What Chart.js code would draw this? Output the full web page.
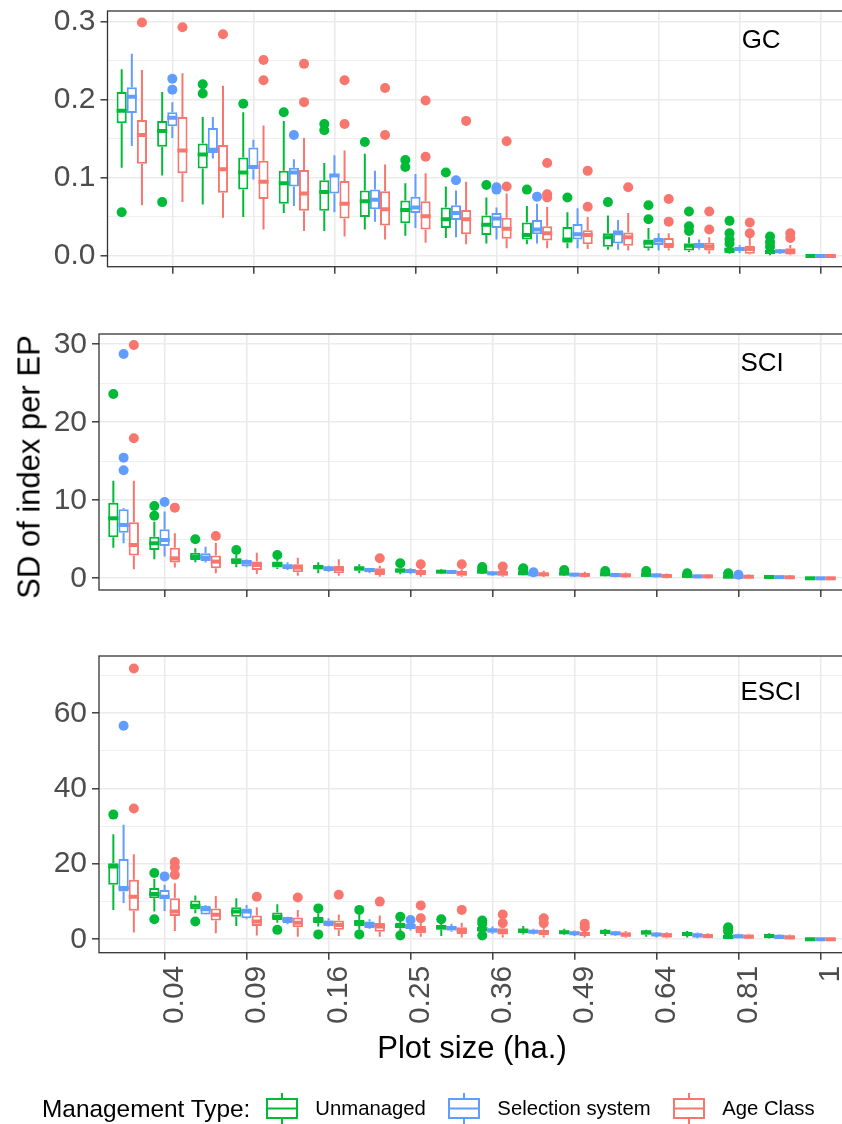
<!DOCTYPE html>
<html>
<head>
<meta charset="utf-8">
<title>SD of index per EP by plot size</title>
<script src="https://cdn.jsdelivr.net/npm/chart.js@4.4.1/dist/chart.umd.min.js"></script>
<style>
  html, body { margin: 0; padding: 0; width: 842px; height: 1124px; overflow: hidden; background: #fff; }
  body { position: relative; font-family: "Liberation Sans", Arial, sans-serif; color: #000; }
  canvas { position: absolute; left: 0; }
  #ytitle { position: absolute; left: 29px; top: 466.5px; transform: translate(-50%, -50%) rotate(-90deg);
            font-size: 31px; line-height: 1; white-space: nowrap; }
  #legend { position: absolute; left: 42px; top: 1093px; height: 31px; display: flex; align-items: flex-start; white-space: nowrap; }
  #legend .lt { font-size: 24.4px; line-height: 31px; margin-right: 16px; }
  #legend .key { width: 32px; height: 31px; margin-right: 17px; }
  #legend .ll { font-size: 20.3px; line-height: 31px; margin-right: 22.5px; }
</style>
</head>
<body>
<canvas id="gc" width="850" height="280" style="top:0px"></canvas>
<canvas id="sci" width="850" height="290" style="top:320px"></canvas>
<canvas id="esci" width="850" height="484" style="top:640px"></canvas>
<div id="ytitle">SD of index per EP</div>
<div id="legend"><span class="lt">Management Type:</span></div>

<script>
// plot sizes (ha.), x axis runs on sqrt(size) = plot side
const plotSizes = [0.0225, 0.04, 0.0625, 0.09, 0.1225, 0.16, 0.2025, 0.25, 0.3025, 0.36, 0.4225, 0.49, 0.5625, 0.64, 0.7225, 0.81, 0.9025, 1];
const sizeTicks = [0.04, 0.09, 0.16, 0.25, 0.36, 0.49, 0.64, 0.81, 1];
const managementTypes = ['Unmanaged', 'Selection system', 'Age Class'];
const typeColors = ['#00BA38', '#619CFF', '#F8766D'];

// y ticks per panel
const gcTicks = [0, 0.1, 0.2, 0.3];
const gcTickLabels = ['0.0', '0.1', '0.2', '0.3'];
const sciTicks = [0, 10, 20, 30];
const sciTickLabels = ['0', '10', '20', '30'];
const esciTicks = [0, 20, 40, 60];
const esciTickLabels = ['0', '20', '40', '60'];

// box stats: [lower whisker, q1, median, q3, upper whisker], one row per plot size
const gcUnmanaged = [
  [0.113, 0.170, 0.186, 0.210, 0.239], [0.103, 0.140, 0.160, 0.173, 0.210], [0.066, 0.112, 0.130, 0.144, 0.178],
  [0.050, 0.085, 0.107, 0.126, 0.184], [0.055, 0.067, 0.093, 0.109, 0.173], [0.032, 0.058, 0.082, 0.097, 0.119],
  [0.034, 0.050, 0.070, 0.084, 0.131], [0.026, 0.042, 0.059, 0.071, 0.093], [0.023, 0.036, 0.047, 0.062, 0.089],
  [0.016, 0.027, 0.040, 0.052, 0.075], [0.015, 0.021, 0.027, 0.043, 0.064], [0.010, 0.017, 0.021, 0.037, 0.056],
  [0.008, 0.012, 0.024, 0.029, 0.052], [0.007, 0.010, 0.017, 0.021, 0.036], [0.005, 0.007, 0.013, 0.016, 0.024],
  [0.003, 0.004, 0.008, 0.011, 0.013], [0.001, 0.003, 0.005, 0.008, 0.009], [0, 0, 0, 0, 0]
];
const gcSelection = [
  [0.141, 0.183, 0.204, 0.216, 0.259], [0.151, 0.166, 0.177, 0.184, 0.197], [0.125, 0.132, 0.136, 0.164, 0.178],
  [0.098, 0.111, 0.114, 0.139, 0.149], [0.064, 0.089, 0.107, 0.113, 0.124], [0.056, 0.080, 0.103, 0.105, 0.129],
  [0.044, 0.060, 0.072, 0.085, 0.109], [0.036, 0.055, 0.062, 0.076, 0.105], [0.024, 0.046, 0.055, 0.065, 0.084],
  [0.021, 0.036, 0.048, 0.055, 0.062], [0.016, 0.028, 0.034, 0.046, 0.067], [0.010, 0.021, 0.028, 0.041, 0.061],
  [0.008, 0.016, 0.029, 0.033, 0.046], [0.007, 0.014, 0.020, 0.023, 0.029], [0.008, 0.010, 0.014, 0.017, 0.021],
  [0.004, 0.006, 0.009, 0.012, 0.014], [0.003, 0.004, 0.006, 0.008, 0.009], [0, 0, 0, 0, 0]
];
const gcAgeClass = [
  [0.065, 0.118, 0.155, 0.174, 0.238], [0.069, 0.106, 0.135, 0.178, 0.234], [0.049, 0.081, 0.111, 0.142, 0.218],
  [0.034, 0.073, 0.095, 0.122, 0.167], [0.032, 0.058, 0.080, 0.110, 0.151], [0.025, 0.048, 0.067, 0.096, 0.135],
  [0.021, 0.039, 0.060, 0.083, 0.117], [0.017, 0.034, 0.051, 0.070, 0.106], [0.015, 0.028, 0.047, 0.059, 0.095],
  [0.010, 0.022, 0.035, 0.049, 0.080], [0.010, 0.020, 0.029, 0.038, 0.063], [0.009, 0.015, 0.027, 0.033, 0.050],
  [0.007, 0.013, 0.024, 0.030, 0.055], [0.007, 0.010, 0.014, 0.023, 0.029], [0.003, 0.007, 0.012, 0.017, 0.024],
  [0.002, 0.003, 0.009, 0.013, 0.023], [0.001, 0.002, 0.006, 0.010, 0.014], [0, 0, 0, 0, 0]
];
// outliers: [plot size, value]
const gcUnmanagedOut = [
  [0.0225, 0.056], [0.04, 0.069], [0.0625, 0.220], [0.0625, 0.208], [0.09, 0.195], [0.1225, 0.184],
  [0.16, 0.169], [0.16, 0.161], [0.2025, 0.146], [0.25, 0.123], [0.25, 0.114], [0.3025, 0.107], [0.36, 0.091],
  [0.4225, 0.085], [0.49, 0.075], [0.5625, 0.069], [0.64, 0.065], [0.64, 0.047], [0.7225, 0.057], [0.7225, 0.038],
  [0.7225, 0.032], [0.81, 0.045], [0.81, 0.029], [0.81, 0.021], [0.81, 0.016], [0.9025, 0.025], [0.9025, 0.018], [0.9025, 0.012]
];
const gcSelectionOut = [
  [0.04, 0.227], [0.04, 0.213], [0.1225, 0.155], [0.3025, 0.097], [0.36, 0.088], [0.36, 0.085], [0.4225, 0.076]
];
const gcAgeClassOut = [
  [0.0225, 0.299], [0.04, 0.293], [0.0625, 0.284], [0.09, 0.251], [0.09, 0.225], [0.1225, 0.246], [0.1225, 0.197],
  [0.16, 0.225], [0.16, 0.169], [0.2025, 0.215], [0.2025, 0.155], [0.25, 0.199], [0.25, 0.127], [0.3025, 0.173],
  [0.36, 0.147], [0.36, 0.089], [0.4225, 0.119], [0.4225, 0.079], [0.4225, 0.075], [0.49, 0.109], [0.49, 0.063],
  [0.5625, 0.088], [0.64, 0.073], [0.64, 0.044], [0.7225, 0.057], [0.7225, 0.034], [0.81, 0.043], [0.81, 0.029],
  [0.9025, 0.029], [0.9025, 0.023]
];

const sciUnmanaged = [
  [3.93, 5.26, 7.69, 9.70, 12.52], [2.44, 3.63, 4.49, 5.34, 7.26], [2.05, 2.35, 2.78, 3.29, 3.85],
  [1.41, 1.84, 2.26, 2.56, 2.99], [1.20, 1.37, 1.79, 2.14, 2.44], [0.64, 1.15, 1.41, 1.71, 2.05],
  [0.64, 0.98, 1.28, 1.50, 1.79], [0.51, 0.73, 0.98, 1.28, 1.62], [0.55, 0.64, 0.85, 1.07, 1.15],
  [0.55, 0.64, 0.85, 1.07, 1.10], [0.38, 0.43, 0.64, 0.85, 0.94], [0.34, 0.43, 0.60, 0.77, 0.85],
  [0.26, 0.34, 0.51, 0.64, 0.77], [0.21, 0.26, 0.43, 0.56, 0.64], [0.13, 0.17, 0.30, 0.43, 0.51],
  [0.09, 0.09, 0.21, 0.34, 0.40], [0.05, 0.09, 0.17, 0.26, 0.34], [0, 0, 0, 0, 0]
];
const sciSelection = [
  [4.49, 5.85, 6.84, 8.85, 9.00], [2.78, 4.15, 4.91, 6.28, 8.55], [2.01, 2.22, 2.65, 3.21, 4.06],
  [1.41, 1.50, 2.01, 2.35, 2.40], [1.07, 1.20, 1.50, 1.79, 2.05], [0.85, 0.94, 1.28, 1.50, 1.60],
  [0.64, 0.77, 1.07, 1.28, 1.32], [0.51, 0.64, 0.94, 1.15, 1.28], [0.55, 0.64, 0.81, 0.98, 1.07],
  [0.34, 0.43, 0.64, 0.85, 0.94], [0.21, 0.34, 0.51, 0.64, 0.66], [0.21, 0.30, 0.47, 0.64, 0.68],
  [0.13, 0.21, 0.43, 0.60, 0.64], [0.13, 0.17, 0.38, 0.56, 0.60], [0.00, 0.05, 0.25, 0.45, 0.50],
  [0.00, 0.02, 0.20, 0.34, 0.36], [0.00, 0.00, 0.15, 0.30, 0.34], [0, 0, 0, 0, 0]
];
const sciAgeClass = [
  [1.15, 2.91, 4.27, 7.18, 12.52], [1.37, 2.01, 2.56, 3.93, 5.77], [0.64, 1.28, 2.14, 2.91, 4.57],
  [0.56, 1.07, 1.71, 2.14, 3.29], [0.34, 0.77, 1.37, 1.79, 2.65], [0.34, 0.64, 1.20, 1.62, 2.44],
  [0.21, 0.43, 0.85, 1.28, 1.62], [0.21, 0.43, 0.77, 1.07, 1.28], [0.21, 0.34, 0.64, 0.94, 1.15],
  [0.21, 0.34, 0.64, 0.94, 1.15], [0.17, 0.30, 0.51, 0.73, 0.98], [0.13, 0.26, 0.43, 0.64, 0.85],
  [0.09, 0.17, 0.38, 0.60, 0.73], [0.00, 0.09, 0.30, 0.51, 0.60], [0.00, 0.05, 0.25, 0.43, 0.50],
  [0.00, 0.02, 0.20, 0.43, 0.50], [0.00, 0.00, 0.13, 0.30, 0.40], [0, 0, 0, 0, 0]
];
const sciUnmanagedOut = [
  [0.0225, 23.63], [0.04, 9.27], [0.04, 8.03], [0.0625, 5.0], [0.09, 3.63], [0.1225, 2.99], [0.25, 1.92],
  [0.36, 1.45], [0.36, 1.25], [0.4225, 1.28], [0.4225, 1.05], [0.49, 1.07], [0.5625, 0.94], [0.64, 0.94],
  [0.7225, 0.64], [0.81, 0.64]
];
const sciSelectionOut = [
  [0.0225, 28.76], [0.0225, 15.47], [0.0225, 13.85], [0.04, 9.79], [0.4225, 0.77], [0.81, 0.46]
];
const sciAgeClassOut = [
  [0.0225, 29.91], [0.0225, 17.95], [0.04, 9.06], [0.0625, 5.43], [0.2025, 2.56], [0.25, 1.79], [0.3025, 1.79], [0.36, 1.50]
];

const esciUnmanaged = [
  [7.8, 14.45, 19.3, 20.2, 27.9], [7.4, 10.9, 12.0, 13.6, 16.0], [6.9, 8.0, 8.9, 10.3, 11.6],
  [3.5, 6.0, 7.4, 8.5, 10.9], [4.4, 5.1, 6.0, 7.1, 9.3], [3.4, 4.3, 5.1, 5.9, 6.9],
  [2.5, 3.5, 4.4, 5.1, 6.5], [2.0, 2.9, 3.5, 4.3, 5.0], [0.9, 2.5, 3.2, 3.8, 4.3],
  [1.6, 2.0, 2.7, 3.2, 3.8], [1.3, 1.6, 2.3, 2.7, 3.5], [1.2, 1.6, 1.9, 2.3, 2.8],
  [0.9, 1.4, 2.0, 2.3, 2.7], [0.7, 1.2, 1.9, 2.2, 2.5], [0.5, 0.9, 1.4, 1.8, 2.2],
  [0.0, 0.2, 0.6, 1.2, 1.5], [0.2, 0.5, 0.9, 1.4, 1.6], [0, 0, 0, 0, 0]
];
const esciSelection = [
  [9.6, 12.7, 13.6, 21.3, 30.4], [7.5, 10.6, 11.3, 13.1, 14.45], [6.5, 6.6, 8.0, 8.9, 9.1],
  [5.3, 5.6, 7.4, 8.2, 9.1], [4.0, 4.3, 5.1, 5.9, 6.0], [3.4, 3.5, 4.4, 5.0, 5.6],
  [2.7, 2.9, 3.8, 4.7, 5.3], [2.3, 2.7, 3.4, 4.1, 4.3], [2.0, 2.3, 2.9, 3.5, 4.1],
  [1.4, 1.8, 2.3, 2.9, 3.4], [1.3, 1.6, 2.0, 2.5, 2.8], [0.9, 1.2, 1.6, 2.0, 2.3],
  [0.9, 1.1, 1.6, 1.9, 2.2], [0.5, 0.9, 1.3, 1.6, 1.9], [0.3, 0.6, 1.0, 1.6, 1.8],
  [0.2, 0.3, 0.8, 1.3, 1.5], [0.1, 0.2, 0.6, 1.3, 1.4], [0, 0, 0, 0, 0]
];
const esciAgeClass = [
  [1.8, 7.6, 11.3, 15.8, 22.6], [2.2, 6.2, 7.4, 10.9, 14.9], [1.6, 5.0, 6.5, 8.2, 11.5],
  [1.0, 3.5, 4.7, 6.3, 8.5], [0.7, 3.2, 4.4, 5.8, 7.8], [0.9, 2.5, 3.8, 5.0, 6.6],
  [0.7, 2.0, 3.4, 4.3, 6.3], [0.7, 1.6, 2.5, 3.5, 4.4], [0.5, 1.4, 2.3, 3.2, 4.4],
  [0.5, 1.3, 2.0, 2.9, 3.8], [0.5, 1.1, 1.8, 2.5, 3.4], [0.5, 0.9, 1.4, 2.0, 2.7],
  [0.4, 0.7, 1.3, 1.8, 2.2], [0.3, 0.5, 1.1, 1.6, 1.9], [0.2, 0.3, 0.9, 1.4, 1.6],
  [0.1, 0.2, 0.7, 1.3, 1.5], [0.1, 0.1, 0.5, 1.1, 1.3], [0, 0, 0, 0, 0]
];
const esciUnmanagedOut = [
  [0.0225, 33.1], [0.04, 17.6], [0.04, 5.3], [0.0625, 4.7], [0.1225, 2.5], [0.16, 8.2], [0.16, 1.3],
  [0.2025, 7.8], [0.2025, 1.3], [0.25, 6.0], [0.25, 1.0], [0.3025, 5.3], [0.36, 5.0], [0.36, 4.1], [0.36, 1.0],
  [0.81, 3.2], [0.81, 2.5], [0.81, 2.0]
];
const esciSelectionOut = [[0.0225, 56.7], [0.04, 16.7], [0.25, 5.1]];
const esciAgeClassOut = [
  [0.0225, 71.9], [0.0225, 34.7], [0.04, 20.5], [0.04, 19.1], [0.04, 17.1], [0.09, 11.3], [0.1225, 11.1],
  [0.16, 11.8], [0.2025, 10.0], [0.25, 9.0], [0.25, 5.6], [0.3025, 7.8], [0.36, 6.6], [0.36, 4.3],
  [0.4225, 5.6], [0.4225, 4.3], [0.49, 4.1], [0.49, 3.2]
];

Chart.defaults.font.family = '"Liberation Sans", Arial, sans-serif';
Chart.defaults.color = '#4D4D4D';

const DODGE = 0.0125; // side-length offset between neighbouring boxes

// whiskers and median lines on top of the floating bars
const boxWhiskers = {
  id: 'boxWhiskers',
  afterDatasetsDraw(chart) {
    const { ctx, chartArea: a } = chart;
    const ys = chart.scales.y;
    ctx.save();
    ctx.beginPath();
    ctx.rect(a.left, a.top, a.right - a.left, a.bottom - a.top);
    ctx.clip();
    chart.data.datasets.forEach((ds, i) => {
      if (!ds.stats) return;
      chart.getDatasetMeta(i).data.forEach((bar, j) => {
        const [lo, q1, med, q3, hi] = ds.stats[j];
        ctx.strokeStyle = ds.borderColor;
        ctx.lineCap = 'butt';
        ctx.lineWidth = 2;
        ctx.beginPath();
        ctx.moveTo(bar.x, ys.getPixelForValue(q3));
        ctx.lineTo(bar.x, ys.getPixelForValue(hi));
        ctx.moveTo(bar.x, ys.getPixelForValue(q1));
        ctx.lineTo(bar.x, ys.getPixelForValue(lo));
        ctx.stroke();
        ctx.lineWidth = 4;
        ctx.beginPath();
        ctx.moveTo(bar.x - bar.width / 2, ys.getPixelForValue(med));
        ctx.lineTo(bar.x + bar.width / 2, ys.getPixelForValue(med));
        ctx.stroke();
      });
    });
    ctx.restore();
  }
};

// panel border and index name
const panelFrame = {
  id: 'panelFrame',
  afterDraw(chart, args, opts) {
    const { ctx, chartArea: a } = chart;
    ctx.save();
    ctx.strokeStyle = '#333333';
    ctx.lineWidth = 1.3;
    ctx.strokeRect(a.left, a.top, a.right - a.left, a.bottom - a.top);
    ctx.fillStyle = '#000';
    ctx.font = '26px "Liberation Sans", Arial, sans-serif';
    ctx.textAlign = 'left';
    ctx.textBaseline = 'middle';
    ctx.fillText(opts.text, chart.scales.x.getPixelForValue(Math.sqrt(opts.x)) + 2, chart.scales.y.getPixelForValue(opts.y));
    ctx.restore();
  }
};

function boxDataset(k, stats) {
  return {
    type: 'bar',
    label: managementTypes[k],
    stats: stats,
    data: stats.map((s, j) => ({ x: Math.sqrt(plotSizes[j]), y: [s[1], s[3]] })),
    backgroundColor: '#FFFFFF',
    borderColor: typeColors[k],
    borderWidth: 2,
    borderSkipped: false,
    categoryPercentage: 0.75,
    barPercentage: 1
  };
}

function outlierDataset(k, points) {
  return {
    type: 'scatter',
    label: managementTypes[k] + ' outliers',
    data: points.map(p => ({ x: Math.sqrt(p[0]) + (k - 1) * DODGE, y: p[1] })),
    backgroundColor: typeColors[k],
    pointRadius: 5,
    pointBorderWidth: 0
  };
}

function yTicks(majors, labels, max) {
  const half = (majors[1] - majors[0]) / 2;
  const out = [];
  majors.forEach((v, i) => {
    out.push({ value: v, text: labels[i] });
    if (v + half < max) out.push({ value: v + half, minor: true, text: '' });
  });
  return out;
}

function drawPanel(id, p) {
  new Chart(document.getElementById(id), {
    type: 'bar',
    data: {
      datasets: [
        outlierDataset(0, p.out[0]), outlierDataset(1, p.out[1]), outlierDataset(2, p.out[2]),
        boxDataset(0, p.boxes[0]), boxDataset(1, p.boxes[1]), boxDataset(2, p.boxes[2])
      ]
    },
    options: {
      responsive: false,
      animation: false,
      events: [],
      layout: { padding: { top: p.top, right: 5, bottom: 0, left: 0 } },
      plugins: {
        legend: { display: false },
        tooltip: { enabled: false },
        panelFrame: { text: p.name, x: 0.81, y: p.nameY }
      },
      scales: {
        x: {
          type: 'linear',
          min: 0.12,
          max: 1.03,
          offset: false,
          border: { display: false },
          grid: { offset: false, color: '#EBEBEB', lineWidth: 1.6, tickColor: '#333333', tickLength: 7, tickWidth: 1.4 },
          ticks: {
            display: p.xLabels, autoSkip: false, minRotation: 90, maxRotation: 90,
            padding: 6, labelOffset: 10, font: { size: 30 },
            callback: (v, i, t) => t[i].text
          },
          title: {
            display: p.xLabels, text: 'Plot size (ha.)', color: '#000',
            font: { size: 31 }, padding: { top: 0, bottom: 56 }
          },
          afterBuildTicks: ax => { ax.ticks = sizeTicks.map(s => ({ value: Math.sqrt(s), text: String(s) })); },
          afterFit: ax => { ax.height = p.xHeight; ax.paddingLeft = 0; ax.paddingRight = 0; }
        },
        y: {
          type: 'linear',
          min: p.min,
          max: p.max,
          border: { display: false },
          grid: {
            color: '#EBEBEB',
            lineWidth: c => (c.tick && c.tick.minor ? 0.8 : 1.6),
            tickColor: c => (c.tick && c.tick.minor ? 'rgba(0,0,0,0)' : '#333333'),
            tickLength: 7,
            tickWidth: 1.4
          },
          ticks: { padding: 5, font: { size: 30 }, callback: (v, i, t) => t[i].text },
          afterBuildTicks: ax => { ax.ticks = yTicks(p.ticks, p.labels, p.max); },
          afterFit: ax => { ax.width = p.left; ax.paddingTop = 0; ax.paddingBottom = 0; }
        }
      }
    },
    plugins: [boxWhiskers, panelFrame]
  });
}

drawPanel('gc', {
  name: 'GC', nameY: 0.2757, min: -0.0137, max: 0.3137, ticks: gcTicks, labels: gcTickLabels,
  boxes: [gcUnmanaged, gcSelection, gcAgeClass], out: [gcUnmanagedOut, gcSelectionOut, gcAgeClassOut],
  top: 11, left: 107.5, xHeight: 13.3, xLabels: false
});
drawPanel('sci', {
  name: 'SCI', nameY: 27.44, min: -1.5, max: 31.32, ticks: sciTicks, labels: sciTickLabels,
  boxes: [sciUnmanaged, sciSelection, sciAgeClass], out: [sciUnmanagedOut, sciSelectionOut, sciAgeClassOut],
  top: 14, left: 99, xHeight: 20, xLabels: false
});
drawPanel('esci', {
  name: 'ESCI', nameY: 65.4, min: -3.56, max: 75.2, ticks: esciTicks, labels: esciTickLabels,
  boxes: [esciUnmanaged, esciSelection, esciAgeClass], out: [esciUnmanagedOut, esciSelectionOut, esciAgeClassOut],
  top: 16, left: 99, xHeight: 171.3, xLabels: true
});

// legend: boxplot keys
const legend = document.getElementById('legend');
managementTypes.forEach((name, k) => {
  const c = typeColors[k];
  const key = document.createElement('span');
  key.className = 'key';
  key.innerHTML = '<svg width="32" height="31">' +
    '<line x1="16" y1="0" x2="16" y2="31" stroke="' + c + '" stroke-width="2"/>' +
    '<rect x="1" y="6" width="30" height="19" fill="#fff" stroke="' + c + '" stroke-width="2"/>' +
    '<line x1="1" y1="15.5" x2="31" y2="15.5" stroke="' + c + '" stroke-width="2"/></svg>';
  const label = document.createElement('span');
  label.className = 'll';
  label.textContent = name;
  legend.appendChild(key);
  legend.appendChild(label);
});
</script>
</body>
</html>
